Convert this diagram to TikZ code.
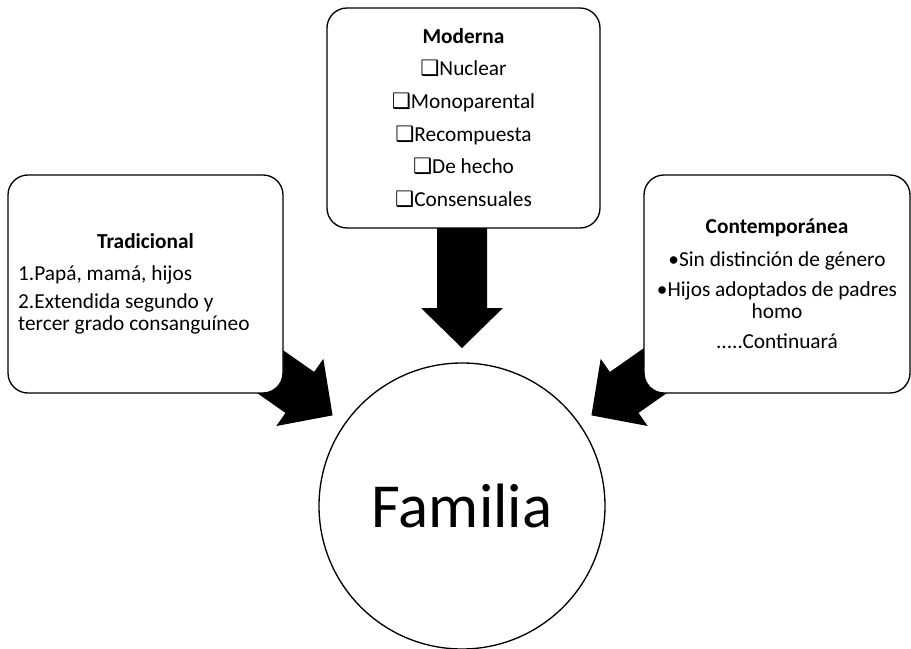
\documentclass[tikz,border=0pt]{standalone}
\usepackage{fontspec}
\setmainfont{Carlito}
\newfontfamily\ckfont{DejaVu Sans}
\newcommand{\ck}{{\ckfont\fontsize{16}{16}\selectfont ❑}}

\begin{document}
\begin{tikzpicture}[x=0.75pt,y=-0.75pt,line width=1pt]
\useasboundingbox (0,0) rectangle (911,649);
\tikzstyle{tipo}=[rectangle, rounded corners=15pt, draw, fill=white,
                  inner sep=0pt, font=\fontsize{16}{16.5}\selectfont]
\node[circle, draw, fill=white, minimum size=214.5pt,
      font=\fontsize{47}{47}\selectfont] (familia) at (462,506){Familia};
% block arrows, pointing to the centre
\foreach \a in {35,90,145}{
	\fill[shift={(familia.center)}, rotate=\a] (158,0) -- (198,41) -- (198,25)
		-- (285,25) -- (285,-25) -- (198,-25) -- (198,-41) -- cycle;
		}
\node[tipo, minimum width=204.75pt, minimum height=165pt, align=center]
	(moderna) at (463.5,118){\textbf{Moderna}\\[8pt]
	\ck Nuclear\\[8pt] \ck Monoparental\\[8pt] \ck Recompuesta\\[8pt]
	\ck De hecho\\[8pt] \ck Consensuales};
\node[tipo, minimum width=206.25pt, minimum height=163.5pt, text width=191pt,
      align=flush left] (tradicional) at (145.5,284){\makebox[\linewidth]{\textbf{Tradicional}}\\[8pt]
	1.Papá, mamá, hijos\\[4.5pt]
	2.Extendida segundo y\\ tercer grado consanguíneo};
\node[tipo, minimum width=199.5pt, minimum height=163.5pt, align=center]
	(contemporanea) at (777,284){\textbf{Contemporánea}\\[8pt]
	•Sin distinción de género\\[6pt]
	•Hijos adoptados de padres\\ homo\\[6.5pt]
	.....Continuará};
\end{tikzpicture}
\end{document}
